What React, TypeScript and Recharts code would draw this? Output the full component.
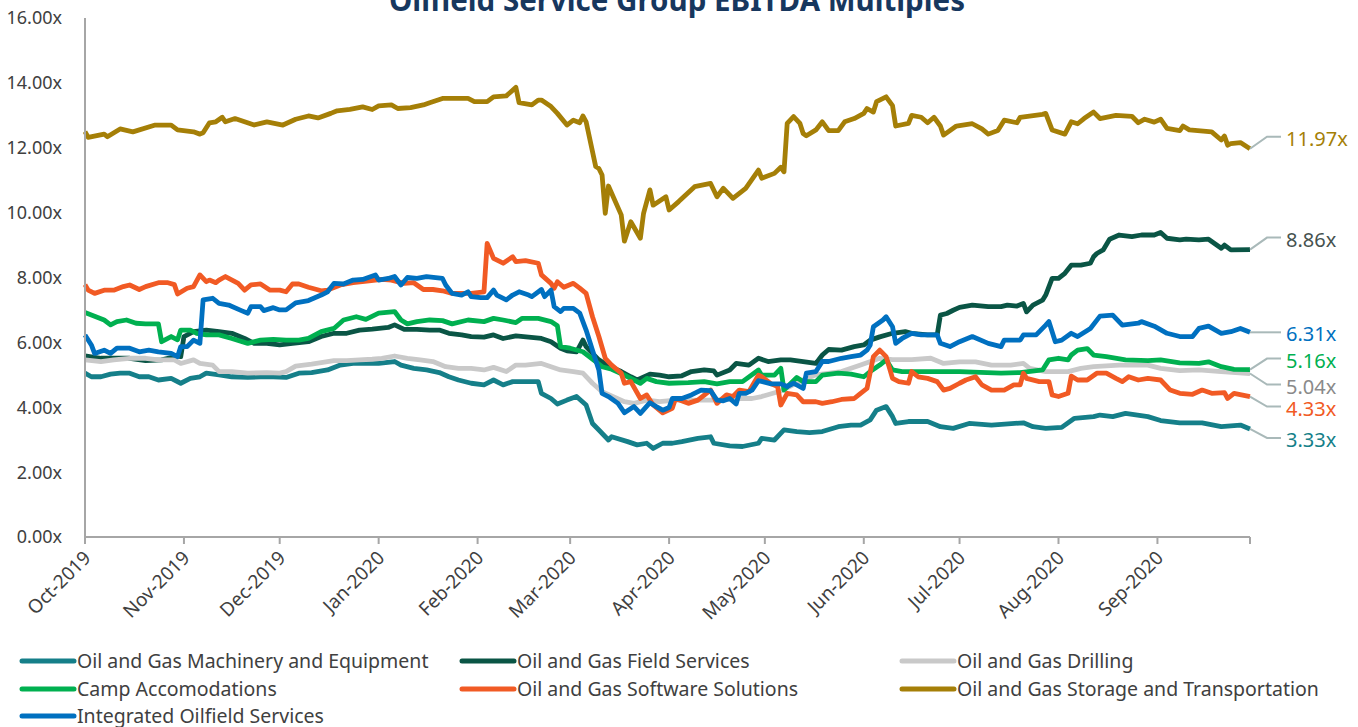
import React from 'react';
import { LineChart, Line, XAxis, YAxis } from 'recharts';

// ---------- DATA ----------
// x values are days since 1 Oct 2019
const START = Date.UTC(2019, 9, 1);
const DAY_MS = 86400000;
const monthLabels = ['Oct-2019', 'Nov-2019', 'Dec-2019', 'Jan-2020', 'Feb-2020', 'Mar-2020', 'Apr-2020', 'May-2020', 'Jun-2020', 'Jul-2020', 'Aug-2020', 'Sep-2020'];
const periodEndDay = 365;
const yTickValues = [0, 2, 4, 6, 8, 10, 12, 14, 16];

const seriesNames = [
  'Oil and Gas Machinery and Equipment',
  'Oil and Gas Field Services',
  'Oil and Gas Drilling',
  'Camp Accomodations',
  'Oil and Gas Software Solutions',
  'Oil and Gas Storage and Transportation',
  'Integrated Oilfield Services',
];

const machineryDays = [0,2,5,8,11,14,17,20,23,27,30,33,36,38,42,46,51,55,59,63,67,71,76,80,84,88,92,97,99,103,107,111,114,117,121,125,128,131,134,142,143,146,148,151,154,157,159,161,164,165,170,173,176,178,181,184,187,192,196,197,202,206,211,212,216,219,223,227,231,236,240,243,246,248,251,253,254,258,264,268,272,277,284,294,297,301,306,310,316,318,322,326,333,337,343,350,356,362,365];
const machineryValues = [5.05,4.94,4.94,5.02,5.05,5.05,4.94,4.94,4.84,4.89,4.74,4.89,4.94,5.05,5.0,4.94,4.92,4.94,4.94,4.92,5.05,5.07,5.15,5.3,5.35,5.35,5.35,5.41,5.3,5.2,5.15,5.07,4.94,4.84,4.74,4.69,4.84,4.69,4.79,4.79,4.43,4.27,4.1,4.22,4.33,4.07,3.5,3.3,2.99,3.09,2.94,2.84,2.89,2.73,2.89,2.89,2.94,3.04,3.09,2.89,2.81,2.79,2.89,3.04,2.99,3.3,3.25,3.22,3.25,3.4,3.45,3.45,3.61,3.91,4.02,3.71,3.5,3.56,3.56,3.4,3.35,3.5,3.45,3.52,3.4,3.35,3.38,3.66,3.71,3.76,3.71,3.81,3.71,3.59,3.52,3.52,3.4,3.45,3.33];

const fieldDays = [0,5,9,14,19,24,29,30,31,34,38,42,46,50,53,57,61,65,70,74,78,82,86,90,95,97,100,104,108,111,114,118,121,125,128,131,135,139,143,146,149,151,154,156,157,159,161,164,168,171,173,177,180,183,187,190,194,197,198,202,204,208,211,214,218,221,225,229,231,233,237,241,244,246,249,253,257,259,264,267,268,270,272,274,278,283,287,289,292,294,295,297,300,301,303,305,307,309,312,315,316,317,319,321,324,328,331,335,337,339,343,345,349,352,356,357,359,365];
const fieldValues = [5.58,5.51,5.51,5.51,5.44,5.46,5.58,5.56,6.18,6.33,6.38,6.33,6.28,6.12,5.97,5.97,5.92,5.97,6.02,6.18,6.28,6.28,6.38,6.41,6.46,6.54,6.4,6.4,6.38,6.38,6.28,6.23,6.18,6.16,6.23,6.12,6.2,6.16,6.12,6.02,5.82,5.74,5.71,6.07,5.87,5.66,5.46,5.27,5.1,4.94,4.84,5.02,4.99,4.94,4.97,5.1,5.15,5.12,4.99,5.15,5.35,5.3,5.51,5.41,5.46,5.46,5.41,5.35,5.61,5.78,5.76,5.87,5.92,6.07,6.17,6.28,6.33,6.28,6.23,6.23,6.84,6.89,6.99,7.08,7.15,7.1,7.1,7.15,7.12,7.2,6.94,7.15,7.3,7.46,7.97,7.97,8.13,8.38,8.38,8.44,8.64,8.74,8.85,9.18,9.31,9.26,9.31,9.31,9.39,9.21,9.16,9.18,9.16,9.18,8.9,9.0,8.85,8.86];

const drillingDays = [0,5,9,14,19,23,28,30,34,36,40,42,46,51,57,61,63,66,71,78,82,86,90,93,97,101,105,109,113,117,121,125,128,132,135,138,143,146,149,153,156,159,162,165,169,172,176,180,185,192,198,204,209,212,218,224,229,237,243,249,253,259,265,269,274,279,284,290,294,296,301,308,312,316,324,333,337,343,349,356,365];
const drillingValues = [5.46,5.41,5.46,5.51,5.51,5.46,5.46,5.35,5.46,5.35,5.3,5.1,5.1,5.05,5.07,5.05,5.1,5.27,5.33,5.44,5.44,5.46,5.48,5.51,5.58,5.51,5.46,5.41,5.25,5.2,5.2,5.15,5.23,5.1,5.3,5.3,5.35,5.25,5.15,5.1,5.05,4.74,4.48,4.35,4.17,4.12,4.22,4.17,4.22,4.22,4.22,4.27,4.27,4.33,4.5,4.8,5.0,5.1,5.3,5.51,5.47,5.47,5.51,5.35,5.4,5.4,5.3,5.3,5.35,5.2,5.1,5.1,5.2,5.25,5.3,5.3,5.2,5.13,5.15,5.1,5.04];

const campDays = [0,4,6,8,10,13,16,19,23,24,27,29,30,33,35,38,42,46,51,55,59,63,67,70,74,78,81,85,88,92,97,99,101,104,108,112,115,120,125,128,131,135,137,142,146,148,149,152,156,160,162,165,169,172,174,176,179,183,189,194,198,202,206,211,212,216,218,219,223,225,229,231,236,240,244,246,249,251,253,256,264,274,287,293,300,302,305,308,309,311,314,316,320,326,333,337,343,349,352,356,360,365];
const campValues = [6.92,6.77,6.69,6.54,6.64,6.69,6.59,6.57,6.57,6.02,6.18,6.08,6.38,6.38,6.28,6.23,6.23,6.12,5.97,6.07,6.09,6.07,6.07,6.12,6.33,6.43,6.69,6.79,6.71,6.9,6.95,6.69,6.57,6.64,6.69,6.67,6.57,6.69,6.64,6.74,6.69,6.61,6.74,6.74,6.64,6.51,5.87,5.82,5.71,5.41,5.25,5.17,4.99,4.84,4.74,4.89,4.79,4.74,4.76,4.79,4.72,4.79,4.79,5.15,4.99,4.99,5.2,4.53,4.92,4.79,4.79,4.99,5.05,5.02,4.94,5.1,5.3,5.46,5.15,5.1,5.1,5.1,5.05,5.07,5.15,5.46,5.51,5.46,5.61,5.76,5.81,5.61,5.56,5.46,5.44,5.46,5.37,5.35,5.4,5.25,5.17,5.16];

const softwareDays = [0,1,3,6,9,12,14,17,19,23,26,28,29,32,34,36,38,39,41,42,44,48,50,52,55,58,61,63,65,67,70,74,76,80,84,89,93,96,100,103,106,109,112,115,121,125,126,128,131,134,135,138,142,143,146,147,148,150,153,155,157,159,161,163,165,168,169,171,174,176,178,181,184,185,189,192,196,198,201,203,205,208,211,212,215,217,218,220,223,225,229,231,234,237,241,243,245,247,249,251,253,255,258,259,261,264,267,269,271,274,276,279,281,284,288,291,293,294,295,299,302,303,305,308,309,311,314,317,320,323,325,327,330,333,337,340,343,347,350,353,357,358,360,365];
const softwareValues = [7.78,7.61,7.51,7.61,7.61,7.72,7.77,7.63,7.72,7.84,7.84,7.78,7.49,7.67,7.72,8.08,7.87,7.92,7.84,7.92,8.03,7.82,7.61,7.77,7.8,7.61,7.61,7.56,7.8,7.8,7.7,7.59,7.61,7.77,7.84,7.9,7.94,7.92,7.82,7.84,7.63,7.63,7.59,7.51,7.51,7.56,9.05,8.59,8.44,8.64,8.49,8.52,8.44,8.08,7.82,7.67,7.87,7.7,7.82,7.67,7.51,6.79,6.18,5.51,5.3,5.05,4.74,4.79,4.27,4.38,4.07,3.83,3.97,4.27,4.12,4.22,4.53,4.12,4.38,4.33,4.53,4.48,4.99,4.94,4.72,4.64,4.07,4.43,4.38,4.17,4.17,4.12,4.17,4.24,4.27,4.43,4.58,5.56,5.76,5.56,4.89,4.79,4.74,5.1,4.94,4.89,4.79,4.53,4.58,4.74,4.84,4.94,4.69,4.53,4.53,4.69,4.69,5.05,4.89,4.79,4.79,4.38,4.33,4.43,4.96,4.84,4.84,5.05,5.05,4.89,4.79,4.94,4.84,4.89,4.84,4.53,4.43,4.4,4.53,4.43,4.45,4.27,4.43,4.33];

const storageDays = [0,1,6,7,11,15,22,27,29,34,36,37,39,41,43,44,47,50,53,57,62,66,70,73,77,79,83,87,90,92,96,98,102,106,108,112,120,122,126,128,132,135,136,140,142,143,146,148,151,153,155,156,157,160,161,162,163,164,168,169,171,174,175,177,178,182,183,186,191,196,198,200,203,207,211,212,216,218,219,220,222,224,225,226,229,231,233,236,238,241,244,245,247,248,251,253,254,258,259,262,264,266,268,269,273,278,281,283,286,288,292,293,300,301,303,307,309,311,313,316,318,323,328,330,332,335,337,339,343,344,346,353,356,357,358,359,362,365];
const storageValues = [12.5,12.32,12.42,12.34,12.58,12.49,12.7,12.7,12.55,12.49,12.42,12.46,12.77,12.8,12.94,12.8,12.9,12.8,12.7,12.8,12.7,12.88,12.98,12.92,13.06,13.14,13.18,13.26,13.18,13.29,13.32,13.21,13.24,13.32,13.39,13.52,13.52,13.42,13.42,13.57,13.6,13.86,13.39,13.32,13.47,13.47,13.27,13.06,12.7,12.85,12.77,12.98,12.8,11.42,11.36,11.16,9.98,10.82,9.93,9.12,9.72,9.21,9.98,10.7,10.23,10.49,10.08,10.34,10.8,10.9,10.49,10.75,10.44,10.75,11.31,11.06,11.21,11.4,11.26,12.75,12.96,12.75,12.44,12.37,12.55,12.8,12.53,12.53,12.8,12.9,13.06,13.21,13.1,13.42,13.57,13.3,12.67,12.75,13.0,12.94,12.77,12.94,12.67,12.39,12.67,12.74,12.58,12.42,12.53,12.85,12.77,12.94,13.03,13.06,12.55,12.42,12.8,12.74,12.9,13.1,12.9,13.0,12.97,12.77,12.88,12.79,12.88,12.6,12.53,12.67,12.55,12.49,12.24,12.36,12.08,12.13,12.16,11.97];

const integratedDays = [0,2,3,6,8,10,14,17,20,23,27,29,30,32,34,36,37,40,42,45,49,51,52,55,56,59,61,63,66,70,74,76,78,81,84,87,91,92,95,97,99,101,104,107,112,113,115,118,120,121,124,126,128,129,132,134,136,139,140,143,144,146,147,149,150,153,155,157,159,161,162,164,167,169,172,174,177,179,181,183,184,187,190,193,196,198,200,202,204,205,207,209,211,215,218,220,222,225,226,229,231,233,237,240,243,245,246,247,250,251,253,254,256,259,262,267,268,271,274,278,283,287,288,293,294,298,301,302,304,306,309,311,315,318,322,325,330,331,335,339,343,347,349,352,356,359,362,365];
const integratedValues = [6.23,5.92,5.66,5.76,5.66,5.82,5.82,5.71,5.76,5.71,5.66,5.56,5.87,5.87,6.07,5.97,7.31,7.36,7.2,7.15,6.98,6.9,7.1,7.1,6.98,7.07,7.0,7.0,7.22,7.29,7.46,7.56,7.82,7.8,7.92,7.94,8.08,7.92,7.97,8.03,7.77,8.0,7.97,8.03,7.97,7.77,7.51,7.46,7.56,7.41,7.38,7.38,7.61,7.46,7.31,7.46,7.56,7.46,7.41,7.63,7.41,7.61,7.1,6.95,7.05,7.05,6.9,6.38,5.76,5.15,4.43,4.33,4.12,3.83,4.02,3.81,4.14,4.02,3.91,3.99,4.27,4.27,4.38,4.53,4.51,4.22,4.2,4.27,4.1,4.43,4.43,4.53,4.82,4.72,4.72,4.64,4.74,4.58,5.05,5.1,5.41,5.41,5.51,5.56,5.61,5.76,5.92,6.48,6.69,6.79,6.48,5.97,6.12,6.28,6.23,6.23,5.97,5.87,6.02,6.18,5.97,5.87,6.07,6.07,6.23,6.23,6.53,6.64,6.02,6.07,6.28,6.18,6.43,6.81,6.84,6.53,6.59,6.64,6.5,6.28,6.18,6.18,6.43,6.5,6.28,6.33,6.43,6.31];

// ---------- STYLE ----------
const FONT = "'Noto Sans', 'Open Sans', sans-serif";
const TEXT_COLOR = '#404040';
const AXIS_COLOR = '#a6a6a6';
const LEADER_COLOR = '#a9b9b9';

type Cfg = { name: string; days: number[]; values: number[]; color: string; labelColor: string; leaderDy: number };

const series: Cfg[] = [
  { name: seriesNames[0], days: machineryDays, values: machineryValues, color: '#157f89', labelColor: '#157f89', leaderDy: 9 },
  { name: seriesNames[1], days: fieldDays, values: fieldValues, color: '#0a5545', labelColor: '#46524f', leaderDy: -12 },
  { name: seriesNames[2], days: drillingDays, values: drillingValues, color: '#c9c9c9', labelColor: '#8a8a8a', leaderDy: 11 },
  { name: seriesNames[3], days: campDays, values: campValues, color: '#00b050', labelColor: '#00b050', leaderDy: -11 },
  { name: seriesNames[4], days: softwareDays, values: softwareValues, color: '#f15a24', labelColor: '#f15a24', leaderDy: 10 },
  { name: seriesNames[5], days: storageDays, values: storageValues, color: '#a57f07', labelColor: '#a57f07', leaderDy: -12 },
  { name: seriesNames[6], days: integratedDays, values: integratedValues, color: '#0070c0', labelColor: '#0070c0', leaderDy: 0 },
];

const monthTickDays = monthLabels.map((_, i) => Math.round((Date.UTC(2019, 9 + i, 1) - START) / DAY_MS));
const xTicks = [...monthTickDays, periodEndDay];

const XTick = (props: any) => {
  const { x, y, payload } = props;
  const idx = monthTickDays.indexOf(payload.value);
  if (idx < 0) return <g />;
  return (
    <g transform={`translate(${x},${y})`}>
      <text x={7} y={13} transform="rotate(-45, 7, 13)" textAnchor="end" fontSize={19} fill={TEXT_COLOR} fontFamily={FONT}>
        {monthLabels[idx]}
      </text>
    </g>
  );
};

const makeDot = (cfg: Cfg) => (props: any) => {
  const { cx, cy, index } = props;
  if (index !== cfg.values.length - 1) return <g key={`d${index}`} />;
  const ly = cy + cfg.leaderDy;
  return (
    <g key={`end${index}`}>
      <polyline points={`${cx},${cy} ${cx + 17},${ly} ${cx + 31},${ly}`} fill="none" stroke={LEADER_COLOR} strokeWidth={2} />
      <text x={cx + 36} y={ly + 2} dy="0.35em" fontSize={20} fill={cfg.labelColor} fontFamily={FONT}>
        {cfg.values[index].toFixed(2)}x
      </text>
    </g>
  );
};

const legendCols = [20, 460, 900];
const legendRows = [661, 689, 716];

export default function App() {
  return (
    <div style={{ position: 'absolute', left: 0, top: 0, width: 1358, height: 727, background: '#fff', fontFamily: FONT }}>
      <LineChart width={1358} height={727} margin={{ top: 18, right: 108, bottom: 0, left: 0 }}>
        <XAxis
          dataKey="day"
          type="number"
          domain={[0, periodEndDay]}
          ticks={xTicks}
          interval={0}
          height={190}
          axisLine={{ stroke: AXIS_COLOR, strokeWidth: 2 }}
          tickLine={{ stroke: AXIS_COLOR, strokeWidth: 2 }}
          tickSize={7}
          tickMargin={2}
          tick={<XTick />}
        />
        <YAxis
          type="number"
          domain={[0, 16]}
          ticks={yTickValues}
          interval={0}
          width={85}
          axisLine={{ stroke: AXIS_COLOR, strokeWidth: 2 }}
          tickLine={false}
          tickSize={6}
          tickMargin={17}
          tickFormatter={(v: number) => `${v.toFixed(2)}x`}
          tick={{ fontSize: 18, fill: TEXT_COLOR, fontFamily: FONT }}
        />
        {series.map((s) => (
          <Line
            key={s.name}
            name={s.name}
            data={s.days.map((d, i) => ({ day: d, value: s.values[i] }))}
            dataKey="value"
            type="linear"
            stroke={s.color}
            strokeWidth={4.8}
            strokeLinejoin="round"
            dot={makeDot(s)}
            activeDot={false}
            isAnimationActive={false}
          />
        ))}
      </LineChart>
      <svg width={1358} height={727} style={{ position: 'absolute', left: 0, top: 0, pointerEvents: 'none' }}>
        <text x={677} y={11} textAnchor="middle" fontSize={29.5} fontWeight="bold" fill="#17375e" fontFamily={FONT}>
          Oilfield Service Group EBITDA Multiples
        </text>
        {series.map((s, i) => {
          const cx = legendCols[i % 3];
          const cy = legendRows[Math.floor(i / 3)];
          return (
            <g key={s.name}>
              <line x1={cx + 2} y1={cy} x2={cx + 54} y2={cy} stroke={s.color} strokeWidth={5} strokeLinecap="round" />
              <text x={cx + 57} y={cy} dy="0.35em" fontSize={19.5} fill={TEXT_COLOR} fontFamily={FONT}>
                {s.name}
              </text>
            </g>
          );
        })}
      </svg>
    </div>
  );
}
